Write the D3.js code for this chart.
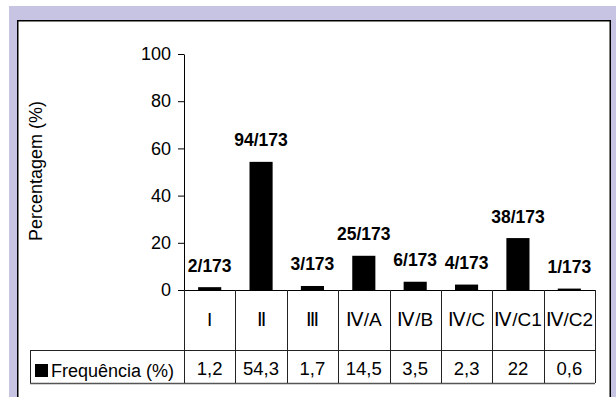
<!DOCTYPE html>
<html>
<head>
<meta charset="utf-8">
<script src="https://cdn.jsdelivr.net/npm/d3@7/dist/d3.min.js"></script>
<style>
  html, body { margin: 0; padding: 0; background: #fff; }
  svg { display: block; font-family: Arial, "Liberation Sans", sans-serif; }
</style>
</head>
<body>
<svg id="chart" width="616" height="397"></svg>
<script>
// Estadios e frequências
const categories = ["I", "Ⅱ", "Ⅲ", "Ⅳ/A", "Ⅳ/B", "Ⅳ/C", "Ⅳ/C1", "Ⅳ/C2"];
const frequencies = [1.2, 54.3, 1.7, 14.5, 3.5, 2.3, 22, 0.6];
const frequencyText = ["1,2", "54,3", "1,7", "14,5", "3,5", "2,3", "22", "0,6"];
const countLabels = ["2/173", "94/173", "3/173", "25/173", "6/173", "4/173", "38/173", "1/173"];
const yTicks = [0, 20, 40, 60, 80, 100];
const seriesName = "Frequência (%)";
const yTitle = "Percentagem (%)";

const svg = d3.select("#chart");

// moldura
svg.append("rect").attr("x", 9).attr("y", 6).attr("width", 620).attr("height", 400)
  .attr("fill", "#c6c4e2");
svg.append("rect").attr("x", 17.75).attr("y", 20.75).attr("width", 592.5).attr("height", 400)
  .attr("fill", "#fff").attr("stroke", "#000").attr("stroke-width", 1.5);

const plotLeft = 184, plotRight = 595, plotTop = 54, base = 290;
const row1 = 350, row2 = 383, legendLeft = 30;

const y = d3.scaleLinear().domain([0, 100]).range([base, plotTop]);
const cells = d3.scaleBand().domain(categories).range([plotLeft, plotRight]).padding(0);
const bars = d3.scaleBand().domain(categories).range([plotLeft, plotRight])
  .paddingInner(0.55).paddingOuter(0.275);

// eixo y
const yAxis = d3.axisLeft(y).tickValues(yTicks).tickSize(6).tickPadding(7).tickSizeOuter(0);
const gy = svg.append("g").attr("transform", `translate(${plotLeft},0)`).call(yAxis);
gy.select(".domain").attr("stroke", "#000");
gy.selectAll(".tick line").attr("stroke", "#000");
gy.selectAll(".tick text").attr("fill", "#000").style("font-size", "18px")
  .style("font-family", "Arial, 'Liberation Sans', sans-serif");

svg.append("text")
  .attr("transform", `translate(41.5,171) rotate(-90)`)
  .attr("text-anchor", "middle")
  .style("font-size", "18px")
  .text(yTitle);

// barras
svg.append("g").selectAll("rect").data(categories).join("rect")
  .attr("x", d => bars(d))
  .attr("width", bars.bandwidth())
  .attr("y", (d, i) => y(frequencies[i]))
  .attr("height", (d, i) => base - y(frequencies[i]))
  .attr("fill", "#000");

// rótulos das barras
svg.append("g").selectAll("text").data(categories).join("text")
  .attr("x", d => bars(d) + bars.bandwidth() / 2)
  .attr("y", (d, i) => y(frequencies[i]) - 15.5)
  .attr("text-anchor", "middle")
  .style("font-size", "17.5px").style("font-weight", "bold")
  .text((d, i) => countLabels[i]);

// tabela de dados
const grid = svg.append("g").attr("stroke", "#222").attr("stroke-width", 1).attr("fill", "none");
grid.append("line").attr("x1", plotLeft).attr("x2", plotRight).attr("y1", base + 0.5).attr("y2", base + 0.5).attr("stroke", "#000");
grid.append("line").attr("x1", legendLeft).attr("x2", plotRight).attr("y1", row1 + 0.5).attr("y2", row1 + 0.5);
grid.append("line").attr("x1", legendLeft).attr("x2", plotRight).attr("y1", row2 + 0.5).attr("y2", row2 + 0.5).attr("stroke", "#555").attr("stroke-width", 1.5);
grid.append("line").attr("x1", legendLeft + 0.5).attr("x2", legendLeft + 0.5).attr("y1", row1).attr("y2", row2);
grid.selectAll("line.v").data(categories.concat(["end"])).join("line").attr("class", "v")
  .attr("x1", (d, i) => Math.round(plotLeft + i * cells.step()) + 0.5)
  .attr("x2", (d, i) => Math.round(plotLeft + i * cells.step()) + 0.5)
  .attr("y1", base).attr("y2", row2);

svg.append("g").selectAll("text").data(categories).join("text")
  .attr("x", d => cells(d) + cells.bandwidth() / 2)
  .attr("y", 326)
  .attr("text-anchor", "middle")
  .style("font-size", "19px")
  .text(d => d);

svg.append("g").selectAll("text").data(categories).join("text")
  .attr("x", d => cells(d) + cells.bandwidth() / 2)
  .attr("y", 375)
  .attr("text-anchor", "middle")
  .style("font-size", "18.5px")
  .text((d, i) => frequencyText[i]);

// legenda
svg.append("rect").attr("x", 35).attr("y", 364).attr("width", 13).attr("height", 13).attr("fill", "#000");
svg.append("text").attr("x", 51).attr("y", 376.5).style("font-size", "18px").text(seriesName);
</script>
</body>
</html>
